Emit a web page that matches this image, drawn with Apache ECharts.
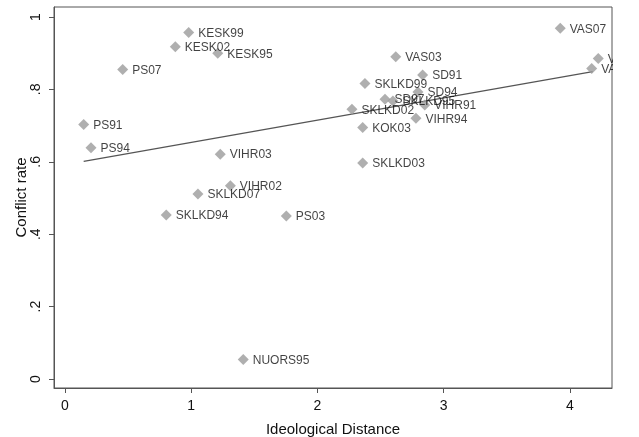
<!DOCTYPE html>
<html>
<head>
<meta charset="utf-8">
<script src="https://cdn.jsdelivr.net/npm/echarts@6/dist/echarts.min.js"></script>
<style>
	html, body { margin: 0; padding: 0; background: #fff; }
	#main { width: 639px; height: 437px; }
</style>
</head>
<body>
<div id="main"></div>
<script>
// party-election labels, ideological distance, conflict rate
var names = ['KESK99', 'KESK02', 'KESK95', 'PS07', 'PS91', 'PS94', 'VIHR03', 'VIHR02',
	'SKLKD07', 'SKLKD94', 'PS03', 'NUORS95', 'VAS03', 'SD91', 'SKLKD99', 'SD94',
	'SD97', 'SKLKD95', 'VIHR91', 'SKLKD02', 'VIHR94', 'KOK03', 'SKLKD03',
	'VAS07', 'VAS99', 'VAS95'];
var distance = [0.98, 0.874, 1.21, 0.457, 0.148, 0.206, 1.23, 1.31,
	1.053, 0.802, 1.753, 1.412, 2.62, 2.833, 2.376, 2.796,
	2.535, 2.598, 2.85, 2.273, 2.78, 2.358, 2.358,
	3.923, 4.224, 4.172];
var conflict = [0.957, 0.918, 0.90, 0.855, 0.703, 0.639, 0.621, 0.534,
	0.511, 0.453, 0.450, 0.054, 0.890, 0.840, 0.816, 0.793,
	0.773, 0.768, 0.757, 0.745, 0.720, 0.695, 0.597,
	0.969, 0.885, 0.858];
// fitted line end points
var fitLine = [[0.148, 0.601], [4.18, 0.849]];

var xTicks = [0, 1, 2, 3, 4];
var yTicks = [0, 0.2, 0.4, 0.6, 0.8, 1];
var yTickLabels = ['0', '.2', '.4', '.6', '.8', '1'];

var pts = [];
for (var i = 0; i < names.length; i++) {
	pts.push({ name: names[i], value: [distance[i], conflict[i]] });
}

var font = '"Liberation Sans", Arial, Helvetica, sans-serif';
var dom = document.getElementById('main');
var myChart = echarts.init(dom, null, { renderer: 'canvas' });

var option = {
	backgroundColor: '#fff',
	animation: false,
	grid: {
		left: 54, right: 27, top: 7, bottom: 49,
		outerBoundsMode: 'none',
		containLabel: false,
		show: true, borderColor: '#555', borderWidth: 1
	},
	xAxis: {
		type: 'value',
		min: -0.087, max: 4.333,
		name: 'Ideological Distance',
		nameLocation: 'middle',
		nameGap: 34,
		nameMoveOverlap: false,
		nameTextStyle: { fontFamily: font, fontSize: 15, color: '#111' },
		splitLine: { show: false },
		axisLine: { show: true, onZero: false, lineStyle: { color: '#555', width: 1 } },
		axisTick: { show: true, length: 5, customValues: xTicks, lineStyle: { color: '#555' } },
		axisLabel: {
			customValues: xTicks, margin: 11,
			fontFamily: font, fontSize: 14, color: '#111'
		}
	},
	yAxis: {
		type: 'value',
		min: -0.0249, max: 1.0276,
		name: 'Conflict rate',
		nameLocation: 'middle',
		nameGap: 25,
		nameMoveOverlap: false,
		nameRotate: 90,
		nameTextStyle: { fontFamily: font, fontSize: 15, color: '#111' },
		splitLine: { show: false },
		axisLine: { show: true, onZero: false, lineStyle: { color: '#555', width: 1 } },
		axisTick: { show: true, length: 5, customValues: yTicks, lineStyle: { color: '#555' } },
		axisLabel: {
			customValues: yTicks, rotate: 90, margin: 11,
			fontFamily: font, fontSize: 14, color: '#111',
			formatter: function(v) {
				for (var k = 0; k < yTicks.length; k++) {
					if (Math.abs(v - yTicks[k]) < 1e-6) return yTickLabels[k];
				}
				return '';
			}
		}
	},
	series: [{
		type: 'scatter',
		data: pts,
		symbol: 'diamond',
		symbolSize: 11,
		itemStyle: { color: '#9b9b9b' },
		label: {
			show: true,
			position: 'right',
			distance: 4,
			offset: [0, 1],
			formatter: '{b}',
			fontFamily: font,
			fontSize: 12,
			color: '#111'
		},
		z: 3
	}, {
		type: 'line',
		data: fitLine,
		symbol: 'none',
		lineStyle: { color: '#555', width: 1.2 },
		z: 2
	}],
	graphic: [{
		type: 'rect',
		z: 100,
		shape: { x: 613, y: 0, width: 30, height: 437 },
		style: { fill: '#fff' }
	}]
};

if (option && typeof option === "object") {
	myChart.setOption(option, true);
}
</script>
</body>
</html>
